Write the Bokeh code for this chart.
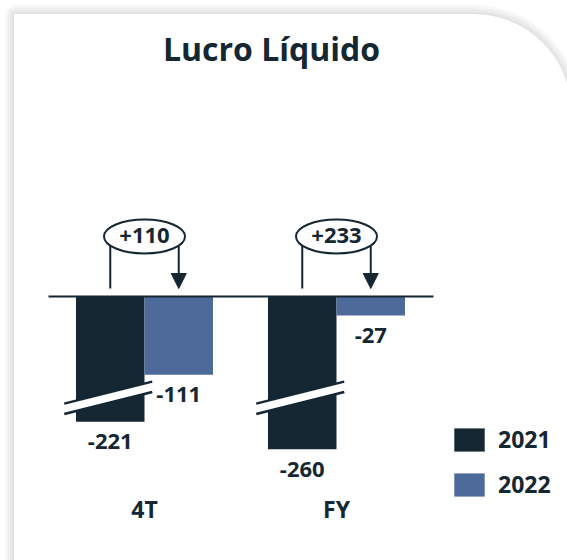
from bokeh.plotting import figure
from bokeh.models import Range1d, BoxAnnotation, Legend, LegendItem, ColumnDataSource, Label
from bokeh.core.properties import value
from bokeh.embed import file_html
from bokeh.resources import INLINE

# ---------------- data ----------------
title = "Lucro Líquido"
periods = ["4T", "FY"]
years = ["2021", "2022"]
v2021 = [-221, -260]
v2022 = [-111, -27]

# broken value axis (2021 bars are drawn with a cut)
BREAK_AT = -143.0    # displayed level of the break mark
BREAK_GAP = 43.5     # value units removed at the break

def shown(v):
    if v < BREAK_AT - BREAK_GAP:
        return v + BREAK_GAP
    if v < BREAK_AT:
        return BREAK_AT
    return v

# ---------------- geometry / style ----------------
W, H = 567, 560
PXG = 192.0      # px per group
X0 = 144.0       # px of first group centre
PXU = 0.705      # px per value unit
Y0 = 296.0       # px (from top) of zero line
BW = 68.5 / PXG  # bar width in data units

DARK = "#152733"
BLUE = "#4d6a9a"
FONT = "Open Sans"

def dx(px):
    return px / PXG

def dy(px):
    return px / PXU

def sx(screen_x):
    return (screen_x - X0) / PXG

def sy(screen_y):
    return (Y0 - screen_y) / PXU

p = figure(width=W, height=H, output_backend="svg", toolbar_location=None,
           x_range=Range1d(-X0 / PXG, (W - X0) / PXG),
           y_range=Range1d(-(H - Y0) / PXU, Y0 / PXU),
           x_axis_type=None, y_axis_type=None, min_border=0)
p.outline_line_color = None
p.grid.visible = False
p.background_fill_color = "white"
p.border_fill_color = "white"

# ---------------- card with soft shadow ----------------
L, T, R, B = 13.5, 13.5, 571.0, 640.0
for k in range(10, 0, -1):
    p.add_layout(BoxAnnotation(left=sx(L - k), right=sx(R + k), top=sy(T - k), bottom=sy(B + k),
                               fill_color="black", fill_alpha=0.011, line_color=None,
                               border_radius=(k + 2, 98 + k, 0, 0), level="underlay"))
p.add_layout(BoxAnnotation(left=sx(L), right=sx(R), top=sy(T), bottom=sy(B),
                           fill_color="white", fill_alpha=1.0, line_color=None,
                           border_radius=(0, 98, 0, 0), level="underlay"))

# ---------------- bars ----------------
xs = list(range(len(periods)))
src21 = ColumnDataSource(dict(x=[i - BW / 2 for i in xs], bottom=[shown(v) for v in v2021],
                              top=[0] * len(xs), v=v2021))
src22 = ColumnDataSource(dict(x=[i + BW / 2 for i in xs], bottom=[shown(v) for v in v2022],
                              top=[0] * len(xs), v=v2022))
r21 = p.vbar(x="x", top="top", bottom="bottom", width=BW, source=src21,
             fill_color=DARK, line_color=None)
r22 = p.vbar(x="x", top="top", bottom="bottom", width=BW, source=src22,
             fill_color=BLUE, line_color=None)

# break marks on the cut bars
bx, by = [], []
ux0, uy0, ux1, uy1 = [], [], [], []
for i, v in zip(xs, v2021):
    if v < BREAK_AT:
        c = i - BW / 2
        xl, xr = c + dx(-46), c + dx(42)
        yl, yr = BREAK_AT + dy(0.25 * -46), BREAK_AT + dy(0.25 * 42)
        h = dy(5.2)
        bx.append([xl, xr, xr, xl])
        by.append([yl + h, yr + h, yr - h, yl - h])
        for s in (h, -h):
            ux0.append(xl); uy0.append(yl + s); ux1.append(xr); uy1.append(yr + s)
p.patches(bx, by, fill_color="white", line_color=None)
p.segment(ux0, uy0, ux1, uy1, line_color=DARK, line_width=2.4)

# zero line
p.segment([-0.5], [0], [1.5 + dx(1)], [0], line_color=DARK, line_width=1.8)

# value labels
lab_x = [i - BW / 2 for i in xs] + [i + BW / 2 for i in xs]
lab_y = [shown(v) - dy(20) for v in v2021] + [shown(v) - dy(20) for v in v2022]
lab_t = [f"{v}" for v in v2021] + [f"{v}" for v in v2022]
p.text(lab_x, lab_y, text=lab_t, text_font=value(FONT), text_font_style="bold",
       text_font_size=value("22px"), text_align="center", text_baseline="middle",
       text_color=DARK)

# category labels
p.text(xs, [sy(508)] * len(xs), text=periods, text_font=value(FONT), text_font_style="bold",
       text_font_size=value("23px"), text_align="center", text_baseline="middle",
       text_color=DARK)

# change brackets
ELL_Y = sy(236)
TIP = dy(8)
seg_x0, seg_y0, seg_x1, seg_y1 = [], [], [], []
tri_x, tri_y = [], []
for i in xs:
    xl, xr = i - BW / 2, i + BW / 2
    seg_x0 += [xl, xr]; seg_y0 += [TIP, ELL_Y]
    seg_x1 += [xl, xr]; seg_y1 += [ELL_Y, TIP + dy(13)]
    tri_x.append([xr - dx(7.5), xr + dx(7.5), xr])
    tri_y.append([TIP + dy(15), TIP + dy(15), TIP])
p.segment(seg_x0, seg_y0, seg_x1, seg_y1, line_color=DARK, line_width=2)
p.patches(tri_x, tri_y, fill_color=DARK, line_color=DARK, line_width=1)
p.ellipse(x=xs, y=[ELL_Y] * len(xs), width=81, height=34, width_units="screen",
          height_units="screen", fill_color="white", line_color=DARK, line_width=2)
deltas = [f"{b - a:+d}" for a, b in zip(v2021, v2022)]
p.text(xs, [sy(235)] * len(xs), text=deltas, text_font=value(FONT), text_font_style="bold",
       text_font_size=value("22px"), text_align="center", text_baseline="middle",
       text_color=DARK)

# title
p.text([sx(271)], [sy(48)], text=[title], text_font=value(FONT), text_font_style="bold",
       text_font_size=value("32px"), text_align="center", text_baseline="middle",
       text_color=DARK)

# legend
leg = Legend(items=[LegendItem(label=years[0], renderers=[r21]),
                    LegendItem(label=years[1], renderers=[r22])],
             location=(450, 60), orientation="vertical",
             glyph_width=38, glyph_height=29, spacing=13, label_standoff=10,
             padding=0, margin=0, border_line_color=None, background_fill_alpha=0,
             label_text_font=FONT, label_text_font_style="bold",
             label_text_font_size="23px", label_text_color=DARK)
p.add_layout(leg)

open("out.html", "w").write(file_html(p, INLINE))
